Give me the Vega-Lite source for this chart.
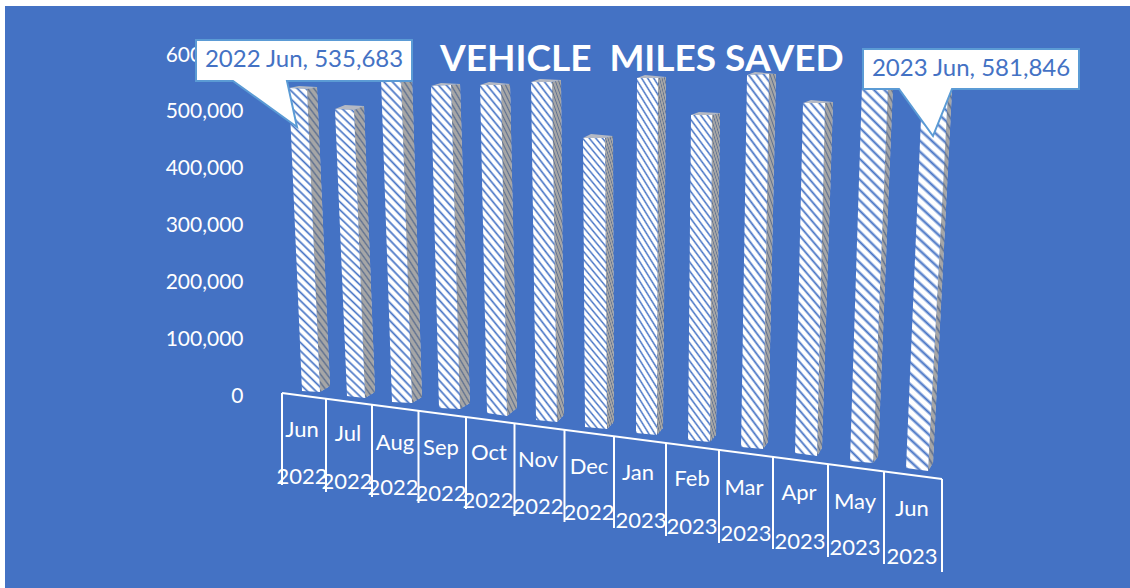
{"$schema":"https://vega.github.io/schema/vega-lite/v6.json","width":1130,"height":588,"autosize":{"type":"none"},"padding":0,"background":"#4472C4",
"title":{"text":"VEHICLE \u00a0MILES SAVED","anchor":"start","frame":"group","dx":440,"offset":-79,"color":"#ffffff","font":"Lato","fontSize":37,"fontWeight":"bold"},
"config":{"view":{"stroke":null},"style":{"hatch":{"fill":{"gradient":"linear","x1":1,"y1":0,"x2":0.891,"y2":1.09,"stops":[
{"offset":0,"color":"#fff"},{"offset":0.011,"color":"#fff"},{"offset":0.018,"color":"#4472C4"},
{"offset":0.025,"color":"#fff"},{"offset":0.036,"color":"#fff"},{"offset":0.043,"color":"#4472C4"},
{"offset":0.05,"color":"#fff"},{"offset":0.061,"color":"#fff"},{"offset":0.068,"color":"#4472C4"},
{"offset":0.075,"color":"#fff"},{"offset":0.086,"color":"#fff"},{"offset":0.093,"color":"#4472C4"},
{"offset":0.1,"color":"#fff"},{"offset":0.111,"color":"#fff"},{"offset":0.118,"color":"#4472C4"},
{"offset":0.125,"color":"#fff"},{"offset":0.136,"color":"#fff"},{"offset":0.143,"color":"#4472C4"},
{"offset":0.15,"color":"#fff"},{"offset":0.161,"color":"#fff"},{"offset":0.168,"color":"#4472C4"},
{"offset":0.175,"color":"#fff"},{"offset":0.186,"color":"#fff"},{"offset":0.193,"color":"#4472C4"},
{"offset":0.2,"color":"#fff"},{"offset":0.211,"color":"#fff"},{"offset":0.218,"color":"#4472C4"},
{"offset":0.225,"color":"#fff"},{"offset":0.236,"color":"#fff"},{"offset":0.243,"color":"#4472C4"},
{"offset":0.25,"color":"#fff"},{"offset":0.261,"color":"#fff"},{"offset":0.268,"color":"#4472C4"},
{"offset":0.275,"color":"#fff"},{"offset":0.286,"color":"#fff"},{"offset":0.293,"color":"#4472C4"},
{"offset":0.3,"color":"#fff"},{"offset":0.311,"color":"#fff"},{"offset":0.318,"color":"#4472C4"},
{"offset":0.325,"color":"#fff"},{"offset":0.336,"color":"#fff"},{"offset":0.343,"color":"#4472C4"},
{"offset":0.35,"color":"#fff"},{"offset":0.361,"color":"#fff"},{"offset":0.368,"color":"#4472C4"},
{"offset":0.375,"color":"#fff"},{"offset":0.386,"color":"#fff"},{"offset":0.393,"color":"#4472C4"},
{"offset":0.4,"color":"#fff"},{"offset":0.411,"color":"#fff"},{"offset":0.418,"color":"#4472C4"},
{"offset":0.425,"color":"#fff"},{"offset":0.436,"color":"#fff"},{"offset":0.443,"color":"#4472C4"},
{"offset":0.45,"color":"#fff"},{"offset":0.461,"color":"#fff"},{"offset":0.468,"color":"#4472C4"},
{"offset":0.475,"color":"#fff"},{"offset":0.486,"color":"#fff"},{"offset":0.493,"color":"#4472C4"},
{"offset":0.5,"color":"#fff"},{"offset":0.511,"color":"#fff"},{"offset":0.518,"color":"#4472C4"},
{"offset":0.525,"color":"#fff"},{"offset":0.536,"color":"#fff"},{"offset":0.543,"color":"#4472C4"},
{"offset":0.55,"color":"#fff"},{"offset":0.561,"color":"#fff"},{"offset":0.568,"color":"#4472C4"},
{"offset":0.575,"color":"#fff"},{"offset":0.586,"color":"#fff"},{"offset":0.593,"color":"#4472C4"},
{"offset":0.6,"color":"#fff"},{"offset":0.611,"color":"#fff"},{"offset":0.618,"color":"#4472C4"},
{"offset":0.625,"color":"#fff"},{"offset":0.636,"color":"#fff"},{"offset":0.643,"color":"#4472C4"},
{"offset":0.65,"color":"#fff"},{"offset":0.661,"color":"#fff"},{"offset":0.668,"color":"#4472C4"},
{"offset":0.675,"color":"#fff"},{"offset":0.686,"color":"#fff"},{"offset":0.693,"color":"#4472C4"},
{"offset":0.7,"color":"#fff"},{"offset":0.711,"color":"#fff"},{"offset":0.718,"color":"#4472C4"},
{"offset":0.725,"color":"#fff"},{"offset":0.736,"color":"#fff"},{"offset":0.743,"color":"#4472C4"},
{"offset":0.75,"color":"#fff"},{"offset":0.761,"color":"#fff"},{"offset":0.768,"color":"#4472C4"},
{"offset":0.775,"color":"#fff"},{"offset":0.786,"color":"#fff"},{"offset":0.793,"color":"#4472C4"},
{"offset":0.8,"color":"#fff"},{"offset":0.811,"color":"#fff"},{"offset":0.818,"color":"#4472C4"},
{"offset":0.825,"color":"#fff"},{"offset":0.836,"color":"#fff"},{"offset":0.843,"color":"#4472C4"},
{"offset":0.85,"color":"#fff"},{"offset":0.861,"color":"#fff"},{"offset":0.868,"color":"#4472C4"},
{"offset":0.875,"color":"#fff"},{"offset":0.886,"color":"#fff"},{"offset":0.893,"color":"#4472C4"},
{"offset":0.9,"color":"#fff"},{"offset":0.911,"color":"#fff"},{"offset":0.918,"color":"#4472C4"},
{"offset":0.925,"color":"#fff"},{"offset":0.936,"color":"#fff"},{"offset":0.943,"color":"#4472C4"},
{"offset":0.95,"color":"#fff"},{"offset":0.961,"color":"#fff"},{"offset":0.968,"color":"#4472C4"},
{"offset":0.975,"color":"#fff"},{"offset":0.986,"color":"#fff"},{"offset":0.993,"color":"#4472C4"},
{"offset":1,"color":"#fff"}]}}}},
"datasets":{
"bars":[
{"month":"Jun","year":"2022","value":535683,"i":[0,1,2,3],"fx":[5.78,6.14,6.4,6.04],"fy":[536800,535040,1760,3520],"sx":[6.14,6.34,6.6,6.4],"sy":[535040,538560,12320,1760],"tx":[5.78,5.98,6.34,6.14],"ty":[536800,540320,538560,535040],"lx":[6.04,6.04],"ly":[-65120,-147840],"lt":["Jun","2022"]},
{"month":"Jul","year":"2022","value":503000,"i":[0,1,2,3],"fx":[6.7,7.08,7.3,6.94],"fy":[499840,498080,-8800,-5280],"sx":[7.08,7.28,7.5,7.3],"sy":[498080,505120,1760,-8800],"tx":[6.7,6.9,7.28,7.08],"ty":[499840,506880,505120,498080],"lx":[6.96,6.94],"ly":[-72160,-156640],"lt":["Jul","2022"]},
{"month":"Aug","year":"2022","value":558000,"i":[0,1,2,3],"fx":[7.62,8.02,8.24,7.84],"fy":[554400,552640,-17600,-15840],"sx":[8.02,8.24,8.44,8.24],"sy":[552640,557920,-7040,-17600],"tx":[7.62,7.82,8.24,8.02],"ty":[554400,559680,557920,552640],"lx":[7.9,7.86],"ly":[-88000,-167200],"lt":["Aug","2022"]},
{"month":"Sep","year":"2022","value":546000,"i":[0,1,2,3],"fx":[8.62,9.02,9.2,8.78],"fy":[540320,542080,-28160,-26400],"sx":[9.02,9.2,9.4,9.2],"sy":[542080,543840,-17600,-28160],"tx":[8.62,8.82,9.2,9.02],"ty":[540320,545600,543840,542080],"lx":[8.82,8.82],"ly":[-96800,-177760],"lt":["Sep","2022"]},
{"month":"Oct","year":"2022","value":549000,"i":[0,1,2,3],"fx":[9.6,10.02,10.14,9.74],"fy":[542080,542080,-40480,-35200],"sx":[10.02,10.2,10.34,10.14],"sy":[542080,543840,-26400,-40480],"tx":[9.6,9.78,10.2,10.02],"ty":[542080,547360,543840,542080],"lx":[9.78,9.76],"ly":[-105600,-190080],"lt":["Oct","2022"]},
{"month":"Nov","year":"2022","value":556000,"i":[0,1,2,3],"fx":[10.62,11.04,11.14,10.72],"fy":[547360,547360,-51040,-47520],"sx":[11.04,11.22,11.28,11.14],"sy":[547360,550880,-38720,-51040],"tx":[10.62,10.8,11.22,11.04],"ty":[547360,552640,550880,547360],"lx":[10.76,10.76],"ly":[-117920,-200640],"lt":["Nov","2022"]},
{"month":"Dec","year":"2022","value":468000,"i":[0,1,2,3],"fx":[11.66,12.1,12.14,11.7],"fy":[448800,448800,-63360,-59840],"sx":[12.1,12.26,12.28,12.14],"sy":[448800,452320,-51040,-63360],"tx":[11.66,11.82,12.26,12.1],"ty":[448800,455840,452320,448800],"lx":[11.78,11.78],"ly":[-130240,-211200],"lt":["Dec","2022"]},
{"month":"Jan","year":"2023","value":566000,"i":[0,1,2,3],"fx":[12.74,13.16,13.14,12.72],"fy":[554400,554400,-73920,-70400],"sx":[13.16,13.32,13.26,13.14],"sy":[554400,556160,-61600,-73920],"tx":[12.74,12.9,13.32,13.16],"ty":[554400,559680,556160,554400],"lx":[12.76,12.82],"ly":[-140800,-225280],"lt":["Jan","2023"]},
{"month":"Feb","year":"2023","value":510000,"i":[0,1,2,3],"fx":[13.82,14.24,14.2,13.76],"fy":[489280,489280,-86240,-82720],"sx":[14.24,14.4,14.32,14.2],"sy":[489280,492800,-73920,-86240],"tx":[13.82,13.98,14.4,14.24],"ty":[489280,494560,492800,489280],"lx":[13.84,13.84],"ly":[-151360,-235840],"lt":["Feb","2023"]},
{"month":"Mar","year":"2023","value":574000,"i":[0,1,2,3],"fx":[14.94,15.38,15.26,14.82],"fy":[559680,561440,-98560,-95040],"sx":[15.38,15.52,15.36,15.26],"sy":[561440,561440,-86240,-98560],"tx":[14.94,15.1,15.52,15.38],"ty":[559680,564960,561440,561440],"lx":[14.88,14.92],"ly":[-167200,-248160],"lt":["Mar","2023"]},
{"month":"Apr","year":"2023","value":533000,"i":[0,1,2,3],"fx":[16.06,16.5,16.34,15.9],"fy":[510400,510400,-110880,-105600],"sx":[16.5,16.66,16.44,16.34],"sy":[510400,512160,-96800,-110880],"tx":[16.06,16.22,16.66,16.5],"ty":[510400,515680,512160,510400],"lx":[15.98,16],"ly":[-176000,-262240],"lt":["Apr","2023"]},
{"month":"May","year":"2023","value":559000,"i":[0,1,2,3],"fx":[17.24,17.76,17.46,17],"fy":[540320,540320,-123200,-119680],"sx":[17.76,17.86,17.56,17.46],"sy":[540320,542080,-112640,-123200],"tx":[17.24,17.4,17.86,17.76],"ty":[540320,545600,542080,540320],"lx":[17.1,17.1],"ly":[-191840,-272800],"lt":["May","2023"]},
{"month":"Jun","year":"2023","value":581846,"i":[0,1,2,3],"fx":[18.46,18.98,18.56,18.12],"fy":[564960,564960,-137280,-132000],"sx":[18.98,19.06,18.66,18.56],"sy":[564960,568480,-123200,-137280],"tx":[18.46,18.62,19.06,18.98],"ty":[564960,570240,568480,564960],"lx":[18.24,18.24],"ly":[-204160,-288640],"lt":["Jun","2023"]}
],
"ticks":[
{"px":5.64,"py":0,"px2":5.64,"py2":-161920},{"px":6.52,"py":-10560,"px2":6.52,"py2":-174240},{"px":7.44,"py":-21120,"px2":7.44,"py2":-183040},{"px":8.37,"py":-31680,"px2":8.37,"py2":-193600},{"px":9.32,"py":-42240,"px2":9.32,"py2":-204160},{"px":10.29,"py":-52800,"px2":10.29,"py2":-216480},{"px":11.29,"py":-65120,"px2":11.29,"py2":-227040},{"px":12.28,"py":-75680,"px2":12.28,"py2":-237600},{"px":13.32,"py":-88000,"px2":13.32,"py2":-251680},{"px":14.38,"py":-100320,"px2":14.38,"py2":-264000},{"px":15.46,"py":-112640,"px2":15.46,"py2":-274560},{"px":16.56,"py":-124960,"px2":16.56,"py2":-288640},{"px":17.68,"py":-137280,"px2":17.68,"py2":-300960},{"px":18.84,"py":-151360,"px2":18.84,"py2":-315040},{"px":5.64,"py":0,"px2":18.84,"py2":-151360}
],
"strips":[{"px":0,"py":691680,"px2":0.1,"py2":-343200},{"px":0,"py":691680,"px2":22.6,"py2":681120}],
"callouts":[
{"label":"2022 Jun, 535,683","i":[0,1,2,3,4,5,6],"cx":[3.92,8.24,8.24,5.74,5.94,4.66,3.92],"cy":[621280,621280,549120,549120,468160,549120,549120],"tx":[6.08],"ty":[586080]},
{"label":"2023 Jun, 581,846","i":[0,1,2,3,4,5,6],"cx":[17.26,21.58,21.58,19.04,18.66,17.98,17.26],"cy":[605440,605440,535040,535040,452320,535040,535040],"tx":[19.42],"ty":[570240]}
]},
"data":{"name":"bars"},
"encoding":{
"x":{"field":"px","type":"quantitative","scale":{"domain":[0,22.6],"nice":false,"zero":false},"axis":null},
"y":{"field":"py","type":"quantitative","scale":{"domain":[-343200,691680],"nice":false,"zero":false},"axis":{"values":[0,100000,200000,300000,400000,500000,600000],"labelExpr":"format(datum.value, ',')","title":null,"orient":"left","offset":-243,"domain":false,"ticks":false,"grid":false,"labelPadding":0,"labelOffset":3,"labelColor":"#ffffff","labelFont":"Lato","labelFontSize":21}}
},
"layer":[
{"transform":[{"flatten":["i","sx","sy"],"as":["idx","px","py"]}],"mark":{"type":"line","style":"hatch","interpolate":"linear-closed","strokeWidth":0},"encoding":{"detail":[{"field":"year"},{"field":"month"}],"order":{"field":"idx","type":"ordinal"}}},
{"transform":[{"flatten":["i","sx","sy"],"as":["idx","px","py"]}],"mark":{"type":"line","fill":"#6f6f6f","fillOpacity":0.62,"interpolate":"linear-closed","strokeWidth":0},"encoding":{"detail":[{"field":"year"},{"field":"month"}],"order":{"field":"idx","type":"ordinal"}}},
{"transform":[{"flatten":["i","tx","ty"],"as":["idx","px","py"]}],"mark":{"type":"line","fill":"#b4b9c4","interpolate":"linear-closed","strokeWidth":0},"encoding":{"detail":[{"field":"year"},{"field":"month"}],"order":{"field":"idx","type":"ordinal"}}},
{"transform":[{"flatten":["i","fx","fy"],"as":["idx","px","py"]}],"mark":{"type":"line","style":"hatch","interpolate":"linear-closed","strokeWidth":0},"encoding":{"detail":[{"field":"year"},{"field":"month"}],"order":{"field":"idx","type":"ordinal"}}},
{"data":{"name":"ticks"},"mark":{"type":"rule","color":"#ffffff","strokeWidth":2},"encoding":{"x2":{"field":"px2"},"y2":{"field":"py2"}}},
{"transform":[{"flatten":["lx","ly","lt"],"as":["px","py","label"]}],"mark":{"type":"text","color":"#ffffff","font":"Lato","fontSize":22,"align":"center","baseline":"middle"},"encoding":{"text":{"field":"label"}}},
{"data":{"name":"callouts"},"transform":[{"flatten":["i","cx","cy"],"as":["idx","px","py"]}],"mark":{"type":"line","fill":"#ffffff","stroke":"#5B9BD5","strokeWidth":2,"interpolate":"linear-closed"},"encoding":{"detail":{"field":"label"},"order":{"field":"idx","type":"ordinal"}}},
{"data":{"name":"callouts"},"transform":[{"flatten":["tx","ty"],"as":["px","py"]}],"mark":{"type":"text","color":"#4472C4","font":"Lato","fontSize":24,"align":"center","baseline":"middle"},"encoding":{"text":{"field":"label"}}},
{"data":{"name":"strips"},"mark":{"type":"rect","color":"#ffffff"},"encoding":{"x2":{"field":"px2"},"y2":{"field":"py2"}}}
]}
